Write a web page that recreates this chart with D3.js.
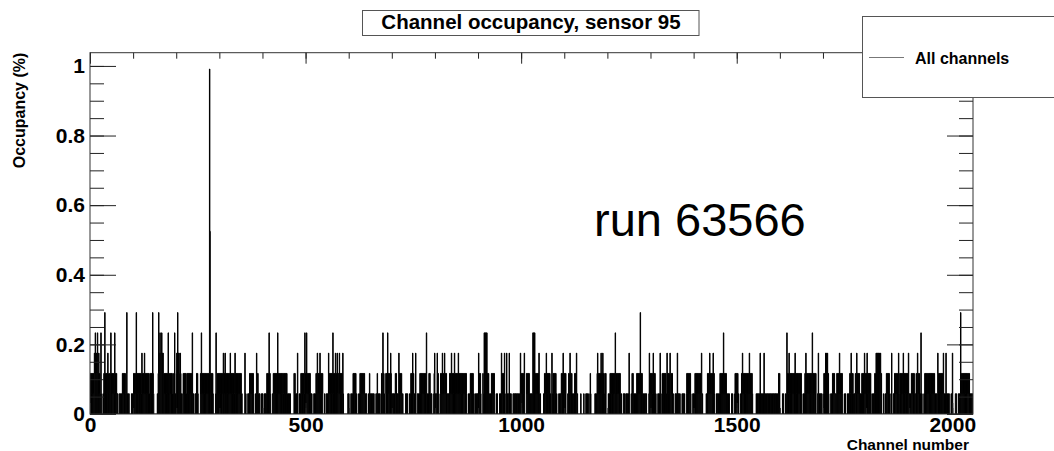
<!DOCTYPE html>
<html><head><meta charset="utf-8">
<script src="https://cdn.jsdelivr.net/npm/d3@7"></script>
<style>
body{margin:0;background:#fff}
svg{display:block}
text{font-family:"Liberation Sans",Arial,sans-serif}
</style>
</head><body>
<svg id="c" width="1054" height="451"></svg>
<script>
// ---------------- data ----------------
const chartTitle = "Channel occupancy, sensor 95";
const legendLabel = "All channels";
const annotation = "run 63566";
const xLabel = "Channel number";
const yLabel = "Occupancy (%)";
const xTickValues = [0, 500, 1000, 1500, 2000];
const yTickValues = [0, 0.2, 0.4, 0.6, 0.8, 1];
const nChannels = 2048;
const levelUnit = 0.0583;   // occupancy (%) of one hit level
// occupancy per channel, in hit levels (base-36 digit, 'h' = 17), 64 channels per row
const levelRows = [
"20212021 20324032 04203120 14100011 20520212 03201202 40212021 24021201",
"10001101 10120212 02102501 01100000 10101202 12050212 02120212 30212031",
"20212021 20120212 05210000 00001025 03430343 03202120 21202401 20212021",
"10214010 23053032 03201100 21202120 12021202 12020410 10001102 12100000",
"21402120 21202120 21202h90 21202100 00014012 02120212 02120302 13020212",
"02120312 02120212 30212021 20212021 10000003 01000010 10212021 20210000",
"10320210 11000101 10001011 01202024 02100001 12021202 12041202 12021202",
"21202120 21010101 10000000 02121101 03000101 12021202 12402140 21202120",
"10100001 01012023 02120312 02120000 10001010 13021202 12041202 03020312",
"20312021 20310000 00000010 10000101 10212021 20100001 10212021 20212010",
"11000010 21010110 10100001 10210110 10002024 02100021 20412021 03201101",
"10102120 11013021 20210100 00001010 10000110 21203120 10130001 11010212",
"02120212 02124010 11202101 10000123 01011302 10001202 13021230 21211101",
"10212031 20212320 21202130 21202120 21202120 21000010 10212021 20100010",
"10110302 12100002 10404040 41202101 10121202 12000010 10000010 10302120",
"23100130 10113010 10000110 10110101 10110130 21202123 00002120 21201011",
"10140404 02120212 03101000 00001021 20302120 21201003 01212021 20100001",
"10110212 03120212 00001021 23021201 10112021 30100000 00100000 01000010",
"10110001 21000000 00010101 23021202 13021302 10212000 00101021 20212021",
"20420212 02120210 10000110 10010101 10300001 12021010 10112021 20215021",
"20101101 10100000 13021202 12302120 10000101 10300012 12021202 10302120",
"23202120 10000110 10301101 10000101 10100001 21202120 21000010 10121202",
"12021202 12301000 00000101 21202312 02120302 10000101 10110212 02120412",
"02120101 10100000 10100001 21202120 10000102 13021202 12021202 13021202",
"10000000 01010110 10301011 01030101 10110101 01101010 11010110 10101202",
"00000010 10000101 40212302 12021202 12030212 02120212 02100010 10213021",
"20212021 20240212 02120001 13010110 11000121 20303030 21000010 11212021",
"11012021 20312021 21000010 10000101 10212302 12101102 12312021 20101121",
"20213021 20312021 20210001 10102123 03030303 23020000 10001012 02120211",
"00030001 10212021 20130121 20212030 21202120 21301101 12021202 10112023",
"02120104 01000010 21202120 21202120 21202120 10110132 02120212 02130101",
"13010110 10000101 30000001 11000010 10150212 02120212 02120212 01011010"
];

// ---------------- build ----------------
const levels = levelRows.join("").replace(/\s+/g, "").split("").map(c => parseInt(c, 36));
const occupancy = levels.map(l => l * levelUnit);

const svg = d3.select("#c");
const frame = {left: 90, right: 973, top: 52.7, bottom: 414};

const x = d3.scaleLinear().domain([0, nChannels]).range([frame.left, frame.right]);
const y = d3.scaleLinear().domain([0, 1.038]).range([frame.bottom, frame.top]);

svg.append("defs").append("clipPath").attr("id", "clip")
  .append("rect").attr("x", frame.left).attr("y", frame.top)
  .attr("width", frame.right - frame.left).attr("height", frame.bottom - frame.top);

// histogram: filled steps plus 1px step outline
const pts = occupancy.map((v, i) => [i, v]);
pts.push([nChannels, occupancy[occupancy.length - 1]]);
const area = d3.area().x(d => x(d[0])).y0(y(0)).y1(d => y(d[1])).curve(d3.curveStepAfter);
const line = d3.line().x(d => x(d[0])).y(d => y(d[1])).curve(d3.curveStepAfter);
const hist = svg.append("g").attr("clip-path", "url(#clip)");
hist.append("path").datum(pts).attr("d", area).attr("fill", "#000");
hist.append("path").datum(pts).attr("d", line)
  .attr("fill", "none").attr("stroke", "#000").attr("stroke-width", 1);

// axes
const tickCol = "#222";
const xMinor = x.ticks(20), yMinor = y.ticks(20);
function styleAxis(g) {
  g.select(".domain").remove();
  g.selectAll(".tick line").attr("stroke", tickCol);
}
function styleLabels(g) {
  g.selectAll("text").attr("font-size", 21).attr("font-weight", "bold")
    .attr("fill", "#000").attr("font-family", "Liberation Sans, Arial, sans-serif");
}
// left
svg.append("g").attr("transform", `translate(${frame.left},0)`)
  .call(d3.axisLeft(y).tickValues(yMinor).tickSize(-14).tickFormat("")).call(styleAxis);
svg.append("g").attr("transform", `translate(${frame.left},0)`)
  .call(d3.axisLeft(y).tickValues(yTickValues).tickSize(-26).tickPadding(5)
    .tickFormat(d => d3.format("~g")(d)))
  .call(styleAxis).call(styleLabels);
// right
svg.append("g").attr("transform", `translate(${frame.right},0)`)
  .call(d3.axisRight(y).tickValues(yMinor).tickSize(-14).tickFormat("")).call(styleAxis);
svg.append("g").attr("transform", `translate(${frame.right},0)`)
  .call(d3.axisRight(y).tickValues(yTickValues).tickSize(-26).tickFormat("")).call(styleAxis);
// top
svg.append("g").attr("transform", `translate(0,${frame.top})`)
  .call(d3.axisTop(x).tickValues(xMinor).tickSize(-6).tickFormat("")).call(styleAxis);
svg.append("g").attr("transform", `translate(0,${frame.top})`)
  .call(d3.axisTop(x).tickValues(xTickValues).tickSize(-11).tickFormat("")).call(styleAxis);
// bottom
svg.append("g").attr("transform", `translate(0,${frame.bottom})`)
  .call(d3.axisBottom(x).tickValues(xMinor).tickSize(-6).tickFormat("")).call(styleAxis);
svg.append("g").attr("transform", `translate(0,${frame.bottom})`)
  .call(d3.axisBottom(x).tickValues(xTickValues).tickSize(-11).tickPadding(3).tickFormat(d3.format("d")))
  .call(styleAxis).call(styleLabels);

// frame
svg.append("rect").attr("x", frame.left).attr("y", frame.top)
  .attr("width", frame.right - frame.left).attr("height", frame.bottom - frame.top)
  .attr("fill", "none").attr("stroke", "#333").attr("stroke-width", 1);

// axis titles
svg.append("text").attr("transform", `translate(25,${frame.top}) rotate(-90)`)
  .attr("text-anchor", "end").attr("font-size", 16).attr("font-weight", "bold").text(yLabel);
svg.append("text").attr("x", 969).attr("y", 449.5)
  .attr("text-anchor", "end").attr("font-size", 15.5).attr("font-weight", "bold").text(xLabel);

// title box
svg.append("rect").attr("x", 362.5).attr("y", 10.5).attr("width", 336.5).attr("height", 25)
  .attr("fill", "#fff").attr("stroke", "#555").attr("stroke-width", 1);
svg.append("text").attr("x", 531).attr("y", 29).attr("text-anchor", "middle")
  .attr("font-size", 20.5).attr("font-weight", "bold").text(chartTitle);

// legend
svg.append("rect").attr("x", 862.5).attr("y", 16.5).attr("width", 200).attr("height", 81)
  .attr("fill", "#fff").attr("stroke", "#555").attr("stroke-width", 1);
svg.append("line").attr("x1", 869).attr("x2", 904).attr("y1", 57.5).attr("y2", 57.5)
  .attr("stroke", "#777").attr("stroke-width", 1);
svg.append("text").attr("x", 915).attr("y", 64).attr("font-size", 16).attr("font-weight", "bold")
  .text(legendLabel);

// annotation
svg.append("text").attr("x", 594).attr("y", 236).attr("font-size", 47).text(annotation);
</script>
</body></html>
